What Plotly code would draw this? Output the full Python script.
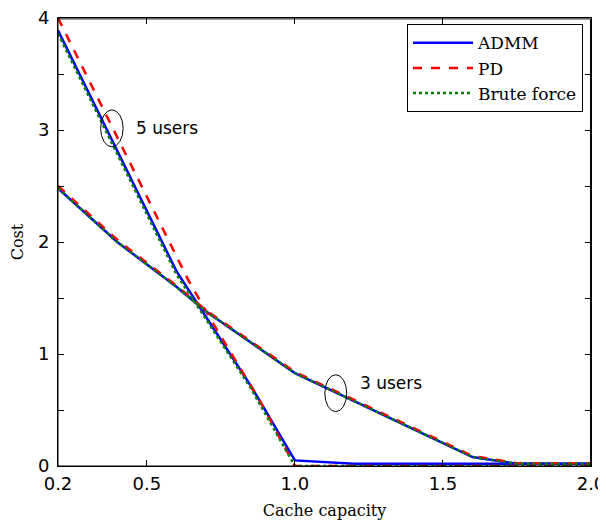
import plotly.graph_objects as go

# ---- data ----
x5_admm = [0.2, 0.4, 0.6, 0.7, 0.85, 1.0, 1.2, 2.0]
y5_admm = [3.89, 2.82, 1.74, 1.33, 0.72, 0.05, 0.02, 0.02]
x5_pd = [0.2, 0.4, 0.64, 0.72, 0.88, 1.0, 2.0]
y5_pd = [4.0, 2.93, 1.66, 1.29, 0.59, 0.0, 0.0]
x5_bf = [0.2, 0.4, 0.6, 0.7, 0.85, 1.0, 2.0]
y5_bf = [3.86, 2.79, 1.71, 1.31, 0.70, 0.0, 0.0]

x3 = [0.2, 0.4, 0.6, 0.7, 1.0, 1.6, 1.75, 2.0]
y3_admm = [2.48, 2.0, 1.6, 1.38, 0.83, 0.08, 0.02, 0.02]
y3_pd = [2.50, 2.02, 1.61, 1.39, 0.84, 0.09, 0.025, 0.025]
y3_bf = [2.48, 2.0, 1.6, 1.38, 0.83, 0.08, 0.02, 0.02]

x_ticks = [0.2, 0.5, 1.0, 1.5, 2.0]
x_ticklabels = ["0.2", "0.5", "1.0", "1.5", "2.0"]
y_ticks = [0, 1, 2, 3, 4]

names = ["ADMM", "PD", "Brute force"]
colors = ["#0000ff", "#ff0000", "#008000"]
dashes = ["solid", "dash", "dot"]

series = [
    (x5_admm, y5_admm, x3, y3_admm),
    (x5_pd, y5_pd, x3, y3_pd),
    (x5_bf, y5_bf, x3, y3_bf),
]

fig = go.Figure()
for (xa, ya, xb, yb), name, c, d in zip(series, names, colors, dashes):
    fig.add_trace(go.Scatter(
        x=list(xa) + [None] + list(xb),
        y=list(ya) + [None] + list(yb),
        mode="lines", name=name,
        line=dict(color=c, width=2.5, dash=d),
        connectgaps=False,
    ))

# frame (slightly inset so the top and right edges stay inside the plot area)
fig.add_shape(type="rect", xref="paper", yref="paper", x0=0, x1=0.999, y0=0, y1=0.998,
              line=dict(color="black", width=1), layer="above")

# ellipses + labels
fig.add_shape(type="circle", xref="x", yref="y", x0=0.344, x1=0.420, y0=2.85, y1=3.18,
              line=dict(color="black", width=1))
fig.add_shape(type="circle", xref="x", yref="y", x0=1.101, x1=1.175, y0=0.485, y1=0.815,
              line=dict(color="black", width=1))
fig.add_annotation(x=0.456, y=3.02, xref="x", yref="y", text="5 users", showarrow=False,
                   xanchor="left", font=dict(family="DejaVu Sans", size=17, color="black"))
fig.add_annotation(x=1.213, y=0.74, xref="x", yref="y", text="3 users", showarrow=False,
                   xanchor="left", font=dict(family="DejaVu Sans", size=17, color="black"))

axis_common = dict(showline=True, linecolor="black", linewidth=1, mirror="allticks",
                   ticks="inside", ticklen=6, tickcolor="black", tickwidth=1,
                   showgrid=False, zeroline=False, automargin=False,
                   ticklabeloverflow="allow",
                   tickfont=dict(family="DejaVu Sans", size=18, color="black"))

fig.update_xaxes(range=[0.2, 2.0], tickvals=x_ticks, ticktext=x_ticklabels,
                 ticklabelstandoff=1,
                 title=dict(text="Cache capacity", font=dict(family="DejaVu Serif", size=16, color="black"),
                            standoff=12),
                 **axis_common)
fig.update_yaxes(range=[0, 4], tickvals=y_ticks, ticklabelstandoff=4,
                 minor=dict(dtick=0.5, ticks="inside", ticklen=6, tickcolor="black", showgrid=False),
                 title=dict(text="Cost", font=dict(family="DejaVu Serif", size=16, color="black"),
                            standoff=10),
                 **axis_common)

fig.update_layout(
    width=598, height=515,
    margin=dict(l=50, r=15, t=10, b=57),
    plot_bgcolor="white", paper_bgcolor="white",
    legend=dict(x=0.985, y=0.986, xanchor="right", yanchor="top",
                bgcolor="white", bordercolor="black", borderwidth=1,
                font=dict(family="DejaVu Serif", size=17, color="black"),
                tracegroupgap=0, itemwidth=60),
    showlegend=True,
)

fig.write_html("out.html")
